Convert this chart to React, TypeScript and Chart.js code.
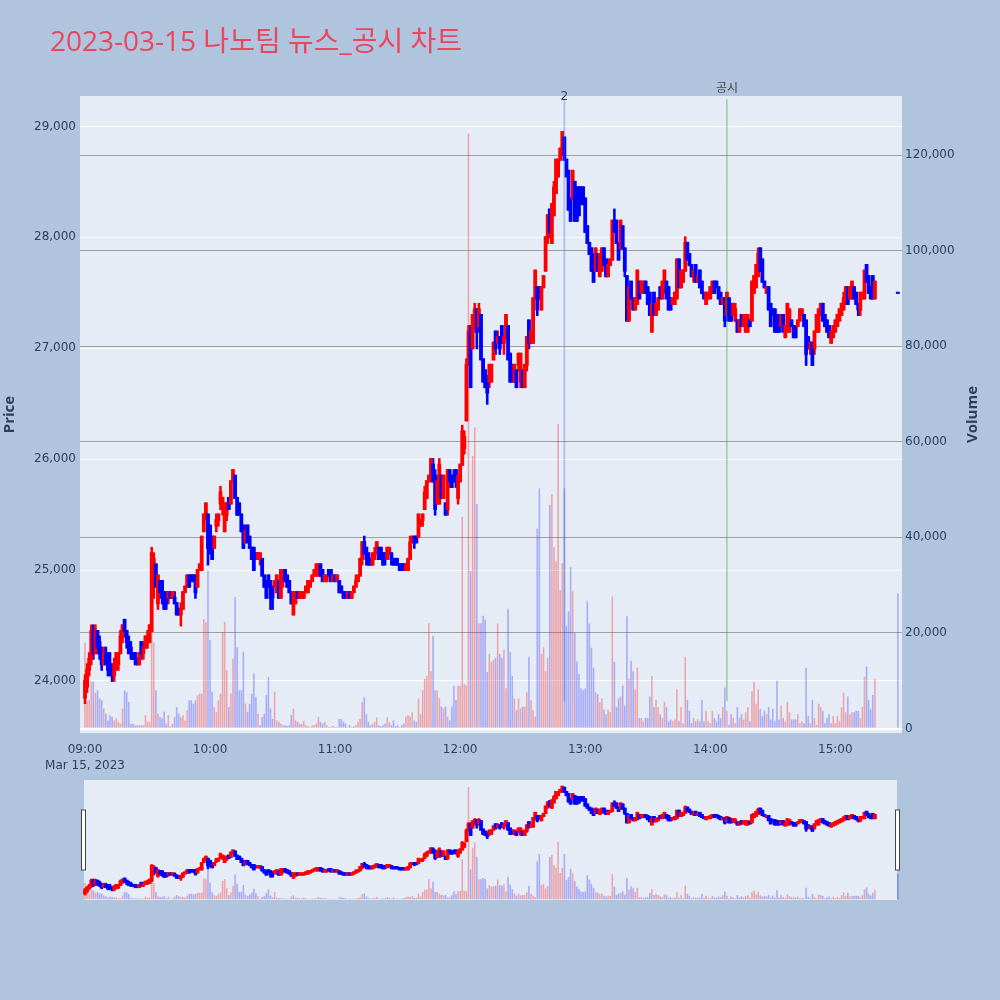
import { useEffect, useRef } from 'react';
import { Chart, registerables } from 'chart.js';

Chart.register(...registerables);

// ---------------- data ----------------
const chartTitle = '2023-03-15 나노팀 뉴스_공시 차트';
const dateLabel = 'Mar 15, 2023';
const hourTicks = [0, 60, 120, 180, 240, 300, 360];
const hourLabels = ['09:00', '10:00', '11:00', '12:00', '13:00', '14:00', '15:00'];
const priceTicks = [24000, 25000, 26000, 27000, 28000, 29000];
const volumeTicks = [0, 20000, 40000, 60000, 80000, 100000, 120000];

// one candle per minute from 09:00 (minute 0) to 15:19, plus the 15:30 closing auction
const regularMinutes = 380;
const closingAuctionMinute = 390;

const opens = [
  23850,23950,24100,24200,24450,24250,24450,24350,24250,24150,
  24250,24200,24150,24100,24050,24150,24150,24250,24400,24550,
  24450,24350,24300,24250,24250,24200,24150,24350,24250,24300,
  24350,24350,24450,25000,25050,24700,24900,24900,24800,24800,
  24750,24800,24750,24750,24700,24650,24600,24650,24800,24850,
  24950,24950,24950,24950,24850,25000,25000,25350,25500,25500,
  25400,25300,25200,25400,25450,25600,25550,25350,25500,25650,
  25600,25800,25850,25650,25600,25500,25400,25250,25400,25300,
  25200,25200,25150,25100,25100,25100,24950,24900,24950,24900,
  24850,24850,24800,24900,24750,24900,25000,24950,24900,24800,
  24600,24700,24800,24750,24750,24750,24800,24800,24850,24900,
  24950,24950,24950,25050,25000,24900,24900,25000,25000,24900,
  24950,24900,24900,24850,24800,24800,24750,24800,24750,24800,
  24850,24900,24950,25100,25250,25200,25150,25100,25050,25100,
  25150,25200,25200,25150,25150,25100,25150,25150,25100,25100,
  25050,25050,25050,25050,25000,25000,25100,25250,25300,25300,
  25300,25400,25450,25550,25650,25800,25850,25950,25850,25600,
  25600,25850,25650,25600,25550,25900,25850,25850,25900,25650,
  25800,25950,26100,26350,26900,27150,27000,27200,27350,27200,
  27300,26900,26800,26750,26700,26700,26900,27150,27050,27100,
  27200,27050,27100,27200,26950,26850,26700,26800,26850,26700,
  26800,26650,26850,27250,27050,27050,27450,27550,27550,27350,
  27550,27700,28000,28250,27950,28200,28400,28550,28700,28750,
  28900,28700,28600,28350,28350,28500,28450,28450,28450,28450,
  28350,28100,27950,27900,27850,27700,27850,27650,27700,27900,
  27800,27650,27750,27800,28150,28150,27950,27900,28100,27900,
  27650,27250,27600,27450,27350,27400,27600,27500,27500,27600,
  27550,27500,27150,27500,27300,27350,27550,27450,27500,27600,
  27550,27450,27400,27400,27450,27800,27550,27600,27700,27950,
  27850,27750,27650,27750,27600,27700,27600,27500,27400,27450,
  27450,27500,27600,27600,27550,27500,27400,27450,27300,27450,
  27400,27300,27250,27250,27150,27300,27200,27150,27150,27250,
  27250,27500,27550,27650,27900,27800,27600,27500,27550,27400,
  27350,27350,27300,27300,27200,27300,27100,27150,27150,27250,
  27200,27200,27200,27250,27300,27300,27250,27100,27000,27050,
  27000,27150,27150,27300,27400,27300,27250,27200,27050,27100,
  27150,27200,27250,27300,27350,27450,27550,27450,27450,27550,
  27500,27400,27350,27450,27450,27750,27650,27550,27650,27450,
  27500,
];

const highs = [
  24050,24150,24250,24500,24500,24500,24450,24400,24300,24300,
  24300,24250,24250,24150,24200,24250,24250,24450,24500,24550,
  24450,24400,24350,24250,24250,24200,24250,24350,24350,24400,
  24450,24500,25200,25150,25050,24950,24900,24900,24800,24800,
  24800,24800,24800,24800,24700,24650,24700,24800,24850,24950,
  24950,24950,24950,24950,25000,25050,25300,25500,25600,25500,
  25400,25300,25300,25500,25500,25750,25650,25600,25600,25650,
  25800,25900,25850,25650,25600,25500,25400,25400,25400,25300,
  25200,25200,25150,25150,25150,25100,24950,24900,24950,24900,
  24850,24900,24950,24900,25000,25000,25000,24950,24900,24800,
  24800,24800,24800,24800,24800,24800,24850,24900,24900,24950,
  25000,25050,25050,25050,25000,24950,24950,25000,25000,24950,
  24950,24950,24900,24850,24800,24800,24800,24800,24800,24850,
  24950,24950,25100,25250,25300,25200,25150,25100,25150,25200,
  25250,25200,25200,25150,25150,25200,25200,25150,25100,25100,
  25100,25050,25050,25050,25050,25100,25300,25300,25300,25300,
  25500,25450,25500,25750,25800,25850,26000,26000,25900,25850,
  26000,25850,25850,25600,25900,25900,25850,25900,25900,25850,
  25950,26300,26250,26900,27200,27200,27300,27400,27350,27400,
  27300,26900,26800,26750,26850,26850,27050,27150,27150,27100,
  27200,27100,27300,27200,26950,26850,26850,26800,26950,26950,
  26800,26850,27100,27250,27150,27450,27700,27550,27550,27550,
  27650,28000,28200,28250,28300,28500,28700,28700,28800,28950,
  28900,28700,28600,28350,28600,28500,28450,28450,28450,28450,
  28350,28100,27950,27900,27850,27900,27850,27850,27900,27900,
  27800,27800,27800,28150,28250,28150,27950,28150,28100,27900,
  27650,27550,27600,27450,27450,27700,27600,27600,27600,27600,
  27550,27500,27400,27500,27400,27450,27550,27600,27700,27600,
  27550,27450,27450,27500,27800,27800,27700,27700,28000,27950,
  27850,27750,27700,27750,27650,27700,27600,27500,27500,27500,
  27550,27600,27600,27600,27550,27500,27450,27450,27500,27450,
  27400,27400,27400,27250,27250,27300,27300,27300,27300,27250,
  27600,27650,27750,27900,27900,27800,27600,27550,27550,27400,
  27350,27350,27300,27300,27300,27300,27200,27400,27350,27250,
  27200,27200,27250,27350,27350,27300,27250,27100,27050,27050,
  27150,27300,27350,27400,27400,27300,27250,27200,27150,27200,
  27250,27300,27350,27400,27500,27550,27550,27550,27600,27550,
  27500,27400,27500,27500,27700,27750,27650,27550,27650,27600,
  27500,
];

const lows = [
  23800,23900,24050,24150,24200,24250,24250,24200,24100,24150,
  24150,24050,24050,24000,24000,24100,24100,24250,24350,24400,
  24300,24250,24200,24200,24150,24150,24150,24200,24200,24300,
  24300,24350,24450,24750,24850,24650,24750,24700,24650,24650,
  24700,24750,24750,24700,24600,24600,24500,24650,24800,24850,
  24850,24900,24900,24750,24850,25000,25000,25350,25450,25050,
  25150,25100,25200,25350,25400,25550,25500,25350,25450,25550,
  25600,25800,25650,25500,25500,25350,25200,25250,25250,25200,
  25100,25000,25100,25100,25050,24950,24850,24750,24850,24650,
  24650,24850,24800,24750,24750,24850,24900,24850,24800,24700,
  24600,24700,24750,24750,24750,24750,24800,24800,24850,24900,
  24950,24950,24950,24950,24900,24900,24900,24950,24900,24900,
  24900,24900,24800,24800,24750,24750,24750,24750,24750,24800,
  24850,24900,24950,25050,25150,25050,25050,25050,25050,25100,
  25150,25100,25100,25050,25050,25100,25150,25050,25050,25050,
  25050,25000,25000,25000,25000,25000,25100,25250,25200,25250,
  25300,25400,25400,25550,25650,25800,25800,25800,25500,25600,
  25600,25650,25650,25500,25500,25750,25750,25800,25750,25600,
  25800,25950,26050,26350,26850,26650,27000,27150,27000,27150,
  26900,26700,26650,26500,26650,26700,26900,26950,27050,26950,
  27050,26950,27100,26900,26700,26700,26700,26650,26800,26650,
  26650,26650,26800,27000,27050,27050,27450,27300,27450,27350,
  27550,27700,27950,28000,27950,28200,28400,28550,28700,28750,
  28700,28550,28250,28150,28350,28150,28150,28200,28300,28300,
  28050,27950,27850,27700,27600,27700,27700,27650,27700,27750,
  27650,27650,27750,27800,28050,27950,27800,27900,27900,27650,
  27250,27250,27450,27350,27350,27400,27450,27500,27500,27500,
  27400,27300,27150,27300,27300,27350,27450,27450,27500,27450,
  27350,27350,27400,27400,27450,27550,27550,27600,27700,27800,
  27750,27650,27600,27600,27600,27550,27500,27450,27400,27450,
  27450,27500,27500,27550,27450,27400,27400,27200,27300,27250,
  27250,27300,27250,27150,27150,27200,27200,27150,27150,27200,
  27250,27500,27550,27650,27700,27600,27550,27500,27350,27200,
  27300,27150,27150,27150,27200,27150,27100,27150,27150,27200,
  27100,27100,27200,27250,27300,27200,26850,27000,26950,26850,
  26950,27150,27150,27300,27250,27200,27150,27100,27050,27100,
  27150,27200,27250,27300,27350,27400,27400,27450,27450,27450,
  27400,27300,27300,27450,27450,27600,27500,27450,27450,27450,
  27500,
];

const closes = [
  24000,24100,24200,24450,24250,24450,24300,24250,24150,24250,
  24150,24100,24100,24050,24150,24250,24250,24400,24500,24450,
  24350,24250,24250,24200,24200,24150,24250,24250,24300,24400,
  24400,24500,25150,25100,24850,24950,24800,24750,24650,24700,
  24800,24750,24800,24700,24600,24600,24650,24800,24850,24950,
  24850,24900,24900,24800,25000,25050,25300,25500,25600,25200,
  25200,25100,25300,25450,25500,25700,25650,25600,25600,25550,
  25800,25900,25650,25500,25500,25350,25200,25350,25250,25200,
  25100,25000,25100,25150,25150,24950,24850,24750,24850,24750,
  24750,24900,24950,24750,25000,25000,24900,24850,24800,24700,
  24800,24800,24750,24800,24800,24800,24850,24900,24900,24950,
  25000,25050,25050,24950,24900,24950,24950,24950,24900,24950,
  24900,24950,24800,24800,24750,24750,24800,24750,24800,24850,
  24900,24950,25100,25250,25150,25100,25050,25050,25150,25150,
  25250,25100,25100,25050,25100,25200,25200,25100,25050,25050,
  25050,25000,25000,25000,25050,25100,25250,25300,25250,25250,
  25500,25450,25500,25700,25800,25850,26000,25800,25550,25800,
  25950,25650,25850,25500,25900,25800,25750,25800,25800,25850,
  25950,26250,26200,26850,27150,26650,27300,27350,27150,27350,
  26900,26700,26650,26600,26850,26850,27050,27000,27100,27000,
  27050,27100,27300,26900,26700,26700,26850,26650,26950,26950,
  26650,26850,27100,27050,27150,27450,27700,27350,27450,27550,
  27650,28000,28200,28050,28300,28450,28700,28700,28800,28950,
  28700,28550,28250,28150,28600,28150,28150,28200,28300,28300,
  28050,27950,27850,27700,27600,27900,27700,27850,27900,27750,
  27650,27750,27800,28150,28050,27950,27800,28150,27900,27700,
  27250,27550,27450,27350,27450,27700,27450,27600,27600,27500,
  27400,27300,27400,27300,27400,27450,27450,27600,27700,27450,
  27350,27350,27450,27500,27800,27550,27700,27700,27950,27800,
  27750,27650,27700,27600,27650,27550,27500,27450,27500,27500,
  27550,27600,27500,27550,27450,27400,27450,27250,27500,27250,
  27250,27400,27350,27150,27250,27200,27300,27300,27300,27200,
  27600,27650,27750,27850,27700,27600,27550,27550,27350,27200,
  27300,27150,27150,27150,27300,27150,27200,27400,27350,27200,
  27100,27100,27250,27350,27350,27200,26950,27000,27050,26850,
  27150,27300,27350,27400,27250,27200,27150,27100,27150,27200,
  27250,27300,27350,27400,27450,27550,27400,27550,27600,27450,
  27400,27350,27500,27500,27700,27600,27500,27450,27450,27600,
  27500,
];

const volumes = [
  18000,5600,6000,9800,9800,7500,8000,6300,6000,4200,
  3100,1700,2800,2400,1700,2100,1400,1000,4200,8000,
  7600,5600,1000,1000,700,700,700,700,700,2800,
  1400,1400,20500,18000,8000,3100,2400,2100,3500,1000,
  2800,400,1000,2400,4500,3100,2400,2800,1700,3800,
  5900,5900,5200,5900,7000,7300,7300,22900,22200,33000,
  18500,7700,4500,3500,5900,7300,20200,22300,12200,4500,
  7300,14600,27500,17000,8000,8000,16000,5200,3500,5200,
  7300,11500,6600,3100,700,2400,3100,7000,10800,4200,
  2000,7700,1700,1400,1000,700,700,500,700,2800,
  4200,1700,1400,1000,1000,1600,700,500,300,700,
  700,1000,2400,1400,1000,1400,700,300,300,500,
  300,300,2000,2000,1400,1000,300,700,300,500,
  700,1400,2000,5500,6500,3000,1400,700,1000,1400,
  2300,700,500,700,1000,2300,1400,700,1700,500,
  700,300,700,1000,2500,2800,2500,3400,1700,1400,
  6300,3000,8000,10400,11000,22000,12000,19400,8000,8000,
  6300,4600,4200,4600,2500,1700,4600,8900,6000,8900,
  9000,44300,9300,9000,124500,33000,57000,63000,47000,22000,
  22000,23600,22800,11800,15600,14000,14400,14800,22000,15600,
  14800,16500,8400,25000,16000,11000,6300,3800,6300,4200,
  4600,4600,7600,15000,5900,3800,2500,41800,50200,15600,
  17000,12000,14800,46800,49000,38000,35000,63700,29000,34600,
  50200,21500,24500,33800,28700,20000,14000,11400,8400,8000,
  8400,26600,22000,16900,12700,7600,7200,5500,6300,4000,
  3000,4000,3500,27600,14000,4500,6300,6700,9000,4800,
  23500,10400,14200,12000,8200,12700,2200,2200,1500,2200,
  2200,6700,11000,4500,6000,4500,3000,2200,5600,4500,
  1500,1900,1500,1900,8200,1500,4500,1100,15000,6000,
  3700,1100,2200,1500,1900,1500,6000,1500,3700,1500,
  1100,3700,2200,1500,3000,2200,4500,8600,3700,750,
  3000,2200,1100,4500,2200,3000,1900,3400,4500,1500,
  7800,9700,5200,8200,4100,2600,3700,3000,4500,1900,
  4100,1500,10000,1900,4800,2200,1500,5600,3400,1900,
  1900,1900,3000,1100,1500,1100,12700,2600,1100,6000,
  2200,750,5200,4500,3700,1100,2200,3000,1100,2600,
  1100,2600,1500,4500,7500,3400,6700,3000,3400,3400,
  3700,3700,2200,4500,10800,13000,6000,4100,7000,10400,
  28300,
];

// news / disclosure markers (time of day) and their labels
const markerTimes = ['12:50', '14:08'];
const markerLabels = ['2', '공시'];

// ---------------- axes / style ----------------
const xRange = [-2.4, 392];
const priceRange = [23530, 29275];
const volumeRange = [-940, 132350];

const PAGE_BG = '#B0C4DE';
const PLOT_BG = '#E5ECF6';
const UP = '#ff0000';
const DOWN = '#0000ff';
const UP_VOL = 'rgba(255,0,0,0.3)';
const DOWN_VOL = 'rgba(0,0,255,0.27)';
const TICK_COLOR = '#2a3f5f';
const TICK_FONT = "'DejaVu Sans', sans-serif";
const markerColors = ['rgba(65,105,225,0.32)', 'rgba(0,140,0,0.5)'];
const markerWidths = [2, 1];
const markerLabelColors = ['#2a3f5f', '#444444'];
const markerLabelDy = [0.5, -7];

const candleMinutes = Array.from({ length: regularMinutes }, (_, i) => i).concat([closingAuctionMinute]);
const toMinute = (t: string) => {
  const [h, m] = t.split(':').map(Number);
  return (h - 9) * 60 + m;
};

function buildDatasets(): any[] {
  const up = closes.map((c, i) => c > opens[i]);
  return [
    {
      type: 'bar',
      data: candleMinutes.map((m, i) => ({ x: m, y: [opens[i], closes[i]] })),
      backgroundColor: up.map((u) => (u ? UP : DOWN)),
      barThickness: 1.8,
      inflateAmount: 1,
      grouped: false,
      yAxisID: 'y',
      order: 0,
    },
    {
      type: 'bar',
      data: candleMinutes.map((m, i) => ({ x: m, y: [lows[i], highs[i]] })),
      backgroundColor: up.map((u) => (u ? UP : DOWN)),
      barThickness: 0.6,
      inflateAmount: 1,
      grouped: false,
      yAxisID: 'y',
      order: 1,
    },
    {
      type: 'bar',
      data: candleMinutes.map((m, i) => ({ x: m, y: volumes[i] })),
      backgroundColor: up.map((u) => (u ? UP_VOL : DOWN_VOL)),
      barThickness: 1.6,
      inflateAmount: 0,
      grouped: false,
      yAxisID: 'y1',
      order: 2,
    },
  ];
}

const mainDecor = {
  id: 'mainDecor',
  beforeDraw(chart: any) {
    const { ctx, chartArea: a } = chart;
    ctx.save();
    ctx.fillStyle = PLOT_BG;
    ctx.fillRect(a.left, a.top, a.right - a.left, a.bottom - a.top);
    ctx.restore();
  },
  afterDatasetsDraw(chart: any) {
    const { ctx, chartArea: a, scales } = chart;
    const h = a.bottom - a.top;
    ctx.save();
    markerTimes.forEach((t, i) => {
      const x = scales.x.getPixelForValue(toMinute(t));
      ctx.strokeStyle = markerColors[i];
      ctx.lineWidth = markerWidths[i];
      ctx.beginPath();
      ctx.moveTo(x, a.bottom - 0.995 * h);
      ctx.lineTo(x, a.bottom - 0.05 * h);
      ctx.stroke();
    });
    ctx.restore();
  },
  afterDraw(chart: any) {
    const { ctx, chartArea: a, scales } = chart;
    ctx.save();
    // title
    ctx.fillStyle = '#E8475F';
    ctx.font = "28px 'Open Sans', 'Noto Sans CJK KR', sans-serif";
    ctx.textAlign = 'left';
    ctx.textBaseline = 'alphabetic';
    ctx.fillText(chartTitle, 50, 51);
    // axis titles
    ctx.fillStyle = TICK_COLOR;
    ctx.font = "bold 15px 'Open Sans', sans-serif";
    ctx.textAlign = 'center';
    ctx.textBaseline = 'middle';
    const midY = (a.top + a.bottom) / 2;
    ctx.save();
    ctx.translate(10, midY);
    ctx.rotate(-Math.PI / 2);
    ctx.fillText('Price', 0, 0);
    ctx.restore();
    ctx.save();
    ctx.translate(973, midY);
    ctx.rotate(-Math.PI / 2);
    ctx.fillText('Volume', 0, 0);
    ctx.restore();
    // marker labels
    ctx.font = "12px 'DejaVu Sans', 'Noto Sans CJK KR', sans-serif";
    markerTimes.forEach((t, i) => {
      const x = scales.x.getPixelForValue(toMinute(t));
      ctx.fillStyle = markerLabelColors[i];
      ctx.fillText(markerLabels[i], x, a.top + markerLabelDy[i]);
    });
    ctx.restore();
  },
};

const sliderDecor = {
  id: 'sliderDecor',
  beforeDraw(chart: any) {
    const { ctx, chartArea: a } = chart;
    ctx.save();
    ctx.fillStyle = PLOT_BG;
    ctx.fillRect(a.left + 4, a.top, a.right - a.left - 9, a.bottom - a.top);
    ctx.restore();
  },
  afterDraw(chart: any) {
    const { ctx, chartArea: a } = chart;
    ctx.save();
    ctx.fillStyle = '#ffffff';
    ctx.strokeStyle = '#444444';
    ctx.lineWidth = 1;
    const hy = a.top + 30;
    const hh = 60;
    [a.left + 1.5, a.right - 6.5].forEach((x) => {
      ctx.fillRect(x, hy, 4, hh);
      ctx.strokeRect(x, hy, 4, hh);
    });
    ctx.restore();
  },
};

function tickFont(lineHeight = 1.2) {
  return { family: TICK_FONT, size: 12, lineHeight };
}

export default function App() {
  const mainRef = useRef<HTMLCanvasElement | null>(null);
  const sliderRef = useRef<HTMLCanvasElement | null>(null);

  useEffect(() => {
    if (!mainRef.current || !sliderRef.current) return;

    const main = new Chart(mainRef.current, {
      type: 'bar',
      data: { datasets: buildDatasets() },
      options: {
        animation: false,
        responsive: false,
        maintainAspectRatio: false,
        events: [],
        layout: { padding: { top: 96, left: 0, right: 0, bottom: 0 } },
        plugins: { legend: { display: false }, tooltip: { enabled: false }, title: { display: false } },
        scales: {
          x: {
            type: 'linear',
            min: xRange[0],
            max: xRange[1],
            offset: false,
            grid: { display: false },
            border: { display: false },
            afterBuildTicks: (s: any) => {
              s.ticks = hourTicks.map((v) => ({ value: v }));
            },
            afterFit: (s: any) => {
              s.height = 37;
            },
            ticks: {
              autoSkip: false,
              maxRotation: 0,
              padding: 1,
              color: TICK_COLOR,
              font: tickFont(1.35),
              callback: (v: any) => {
                const i = hourTicks.indexOf(Number(v));
                if (i === 0) return [hourLabels[0], dateLabel];
                return i >= 0 ? hourLabels[i] : '';
              },
            },
          },
          y: {
            type: 'linear',
            position: 'left',
            min: priceRange[0],
            max: priceRange[1],
            grid: { color: '#ffffff', lineWidth: 1, drawTicks: false },
            border: { display: false },
            afterBuildTicks: (s: any) => {
              s.ticks = priceTicks.map((v) => ({ value: v }));
            },
            afterFit: (s: any) => {
              s.width = 80;
            },
            ticks: {
              padding: 4,
              color: TICK_COLOR,
              font: tickFont(),
              callback: (v: any) => Number(v).toLocaleString('en-US'),
            },
          },
          y1: {
            type: 'linear',
            position: 'right',
            min: volumeRange[0],
            max: volumeRange[1],
            grid: {
              color: (c: any) => (c.tick && c.tick.value === 0 ? '#ffffff' : '#a0a0a0'),
              lineWidth: (c: any) => (c.tick && c.tick.value === 0 ? 2 : 1),
              drawTicks: false,
            },
            border: { display: false },
            afterBuildTicks: (s: any) => {
              s.ticks = volumeTicks.map((v) => ({ value: v }));
            },
            afterFit: (s: any) => {
              s.width = 98;
            },
            ticks: {
              padding: 3,
              color: TICK_COLOR,
              font: tickFont(),
              callback: (v: any) => Number(v).toLocaleString('en-US'),
            },
          },
        },
      } as any,
      plugins: [mainDecor],
    } as any);

    const slider = new Chart(sliderRef.current, {
      type: 'bar',
      data: { datasets: buildDatasets() },
      options: {
        animation: false,
        responsive: false,
        maintainAspectRatio: false,
        events: [],
        layout: { padding: { top: 10, left: 80, right: 98, bottom: 10 } },
        plugins: { legend: { display: false }, tooltip: { enabled: false } },
        scales: {
          x: { type: 'linear', display: false, min: xRange[0], max: xRange[1], offset: false },
          y: { type: 'linear', display: false, min: priceRange[0], max: priceRange[1] },
          y1: { type: 'linear', display: false, min: volumeRange[0], max: volumeRange[1] },
        },
      } as any,
      plugins: [sliderDecor],
    } as any);

    return () => {
      main.destroy();
      slider.destroy();
    };
  }, []);

  return (
    <div
      style={{
        position: 'fixed',
        left: 0,
        top: 0,
        width: 1000,
        height: 1000,
        background: PAGE_BG,
        overflow: 'hidden',
      }}
    >
      <canvas
        ref={mainRef}
        width={1000}
        height={770}
        style={{ position: 'absolute', left: 0, top: 0, width: 1000, height: 770 }}
      />
      <canvas
        ref={sliderRef}
        width={1000}
        height={140}
        style={{ position: 'absolute', left: 0, top: 770, width: 1000, height: 140 }}
      />
    </div>
  );
}
